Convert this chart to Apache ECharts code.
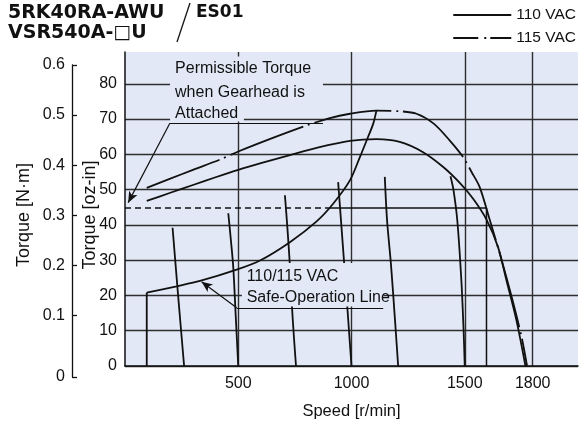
<!DOCTYPE html>
<html><head><meta charset="utf-8">
<script src="https://cdn.jsdelivr.net/npm/echarts@6/dist/echarts.min.js"></script>
<style>html,body{margin:0;padding:0;background:#fff}#c{width:585px;height:431px}</style>
</head><body><div id="c"></div>
<script>
// ---------- data (speed r/min, torque oz-in) ----------
const speed110  = [96,200,300,400,500,600,728,850,993,1110,1213,1316,1405,1478,1537,1596,1647,1684,1728,1768];
const torque110 = [46.8,49.1,51.3,53.5,55.6,57.5,59.8,61.9,63.8,64.3,63.5,60.6,56.4,51.9,47.4,41.5,33.7,24.3,13.0,0];
const speed115  = [96,200,300,419,500,650,802,900,993,1110,1213,1287,1363,1434,1493,1530,1566,1610,1663,1707,1751,1775];
const torque115 = [50.5,53.1,55.6,58.5,60.8,64.6,68.2,70.2,71.5,72.4,72.2,71.5,68.7,63.9,59.2,55.0,50.7,41.5,30.0,19.6,8.2,0];
const safeStartSpeed  = [96,96];
const safeStartTorque = [0,20.8];
const safeSpeed  = [96,228,331,493,596,728,846,919,993,1037,1073,1096,1110];
const safeTorque = [20.8,22.6,24.1,27.3,29.9,35.1,41.0,46.0,52.6,59.2,64.9,68.7,72.4];
const gearDashSpeed  = [0,900];
const gearDashTorque = [44.8,44.8];
const gearSolidSpeed  = [900,1596,1596];
const gearSolidTorque = [44.8,44.8,0];
const load1Speed = [210,235,261];            const load1Torque = [39.2,19.6,0];
const load2Speed = [456,467,478,489,500];    const load2Torque = [43.3,36,28,14,0];
const load3Speed = [706,716,727,737,746,755];const load3Torque = [48.4,40,29.5,17,8,0];
const load4Speed = [941,970,1000];           const load4Torque = [52.1,27,0];
const load5Speed = [1147,1157,1174,1191,1206];const load5Torque = [53.6,41.3,29,14,0];
const load6Speed = [1437,1450,1467,1485,1495,1500]; const load6Torque = [53.8,50,41.3,24.3,10,0];
const speedTicks  = [500,1000,1500,1800];
const ozTicks     = [0,10,20,30,40,50,60,70,80];
const nmTicks     = [-0.0234,0.1,0.2,0.3,0.4,0.5,0.6];

// ---------- styles ----------
const FONT = "'Liberation Sans', Arial, Helvetica, sans-serif";
const INK = '#111111';
const GRID_C = '#2e2e2e';
const PLOT_BG = '#e2e8f6';

const zip = (a,b) => a.map((v,i)=>[v,b[i]]);
const lineSeries = (name, xs, ys, extra) => Object.assign({
  name, type:'line', data: zip(xs,ys), symbol:'none', showSymbol:false,
  xAxisIndex:0, yAxisIndex:0, z:3, silent:true,
  lineStyle:{color:INK, width:1.8, type:'solid', cap:'butt'}, itemStyle:{color:INK}
}, extra||{});

const loads = [[load1Speed,load1Torque],[load2Speed,load2Torque],[load3Speed,load3Torque],
               [load4Speed,load4Torque],[load5Speed,load5Torque],[load6Speed,load6Torque]];

const series = [
  lineSeries('110 VAC', speed110, torque110, {smooth:0.3}),
  lineSeries('115 VAC', speed115, torque115, {smooth:0.3, lineStyle:{color:INK,width:1.8,type:[78,5,2,5],cap:'butt'}}),
  lineSeries('safeStart', safeStartSpeed, safeStartTorque, {z:20}),
  lineSeries('safe', safeSpeed, safeTorque, {smooth:0.3, z:20}),
  lineSeries('gearDash', gearDashSpeed, gearDashTorque, {lineStyle:{color:INK,width:1.5,type:[6,4]}}),
  lineSeries('gearSolid', gearSolidSpeed, gearSolidTorque, {lineStyle:{color:INK,width:1.5}}),
  ...loads.map((l,i)=>lineSeries('load'+(i+1), l[0], l[1], {smooth:0.3})),
  {
    name:'notes', type:'line', data:[], xAxisIndex:0, yAxisIndex:0, z:30, silent:true,
    markLine:{
      silent:true, animation:false, symbolSize:[7,11],
      label:{show:false}, lineStyle:{color:INK, width:1.2, type:'solid'},
      data:[
        [{coord:[198,68.8], symbol:'none'}, {coord:[14,46.3], symbol:'arrow'}],
        [{coord:[198,68.8], symbol:'none'}, {coord:[874,68.8], symbol:'none'}],
        [{coord:[493,16.5], symbol:'none'}, {coord:[338,23.9], symbol:'arrow'}],
        [{coord:[493,16.5], symbol:'none'}, {coord:[1140,16.5], symbol:'none'}]
      ]
    }
  }
];

const option = {
  animation:false,
  textStyle:{fontFamily:FONT, color:INK},
  title:[
    {text:'5RK40RA-AWU', left:8, top:4, padding:0, textStyle:{fontFamily:'DejaVu Sans', fontWeight:'bold', fontSize:19, color:INK}},
    {text:'ES01', left:196, top:4, padding:0, textStyle:{fontFamily:'DejaVu Sans', fontWeight:'bold', fontSize:17, color:INK}},
    {text:'VSR540A-\u25A1U', left:8, top:24, padding:0, textStyle:{fontFamily:'DejaVu Sans', fontWeight:'bold', fontSize:19, color:INK}}
  ],
  legend:{
    orient:'vertical', right:9, top:7, itemWidth:58, itemHeight:14, itemGap:7, padding:0,
    itemStyle:{opacity:0},
    textStyle:{fontSize:15.5, color:INK, fontFamily:FONT},
    data:[{name:'110 VAC'}, {name:'115 VAC', lineStyle:{type:[25,6,2,4]}}]
  },
  grid:[
    {left:125, right:7, top:52, bottom:65, show:true, backgroundColor:PLOT_BG, borderWidth:0},
    {left:72, width:1, top:65, bottom:54}
  ],
  xAxis:[
    {gridIndex:0, type:'value', min:0, max:2000,
     axisLine:{show:true, onZero:false, lineStyle:{color:INK, width:1.5}},
     axisTick:{show:false, customValues:speedTicks},
     axisLabel:{customValues:speedTicks, fontSize:16, color:INK, margin:10, fontFamily:FONT,
                formatter:v => String(v)},
     splitLine:{show:true, lineStyle:{color:GRID_C, width:1.4}},
     name:'Speed [r/min]', nameLocation:'middle', nameGap:37,
     nameTextStyle:{fontSize:16.5, color:INK, fontFamily:FONT}},
    {gridIndex:1, type:'value', show:false, min:0, max:1}
  ],
  yAxis:[
    {gridIndex:0, type:'value', min:0, max:89,
     axisLine:{show:true, lineStyle:{color:INK, width:1.5}},
     axisTick:{show:false, customValues:ozTicks},
     axisLabel:{customValues:ozTicks, fontSize:16, color:INK, margin:8, fontFamily:FONT},
     splitLine:{show:true, lineStyle:{color:GRID_C, width:1.4}},
     name:'Torque [oz-in]', nameLocation:'middle', nameGap:26, nameRotate:90, nameMoveOverlap:false,
     nameTextStyle:{fontSize:18, color:INK, fontFamily:FONT, padding:[0,12,0,0]}},
    {gridIndex:1, type:'value', min:-0.0234, max:0.6,
     axisLine:{show:true, lineStyle:{color:INK, width:1.3}},
     axisTick:{show:true, inside:true, length:5, customValues:nmTicks, lineStyle:{color:INK, width:1.3}},
     axisLabel:{customValues:nmTicks, fontSize:16, color:INK, margin:7, fontFamily:FONT,
                formatter:v => (v < 0.05 ? '0' : v.toFixed(1))},
     splitLine:{show:false},
     name:'Torque [N\u00B7m]', nameLocation:'middle', nameGap:39, nameRotate:90,
     nameTextStyle:{fontSize:18, color:INK, fontFamily:FONT, padding:[0,0,0,12]}}
  ],
  series
};

const chart = echarts.init(document.getElementById('c'), null, {renderer:'canvas'});
chart.setOption(option);

// ---------- annotations placed through the chart's own scales ----------
const px = p => chart.convertToPixel({gridIndex:0}, p);
function box(x0,y0,x1,y1){
  const a = px([x0,y0]), b = px([x1,y1]);
  return {type:'rect', z:10, silent:true,
    shape:{x:Math.min(a[0],b[0]), y:Math.min(a[1],b[1]), width:Math.abs(b[0]-a[0]), height:Math.abs(b[1]-a[1])},
    style:{fill:PLOT_BG}};
}
function note(text, x, y){
  const p = px([x,y]);
  return {type:'text', z:11, silent:true, x:p[0], y:p[1],
    style:{text, fill:INK, font:"16px 'Liberation Sans', Arial, sans-serif", align:'left', verticalAlign:'middle'}};
}
const slashTop = [190,3], slashBottom = [177,42];
chart.setOption({graphic:[
  box(199,87.7,874,79.2), box(199,79.8,817,74.1), box(199,74.4,525,69.3),
  note('Permissible Torque', 221, 84.2),
  note('when Gearhead is', 221, 77.6),
  note('Attached', 221, 71.5),
  box(516,29.2,1141,16.9),
  note('110/115 VAC', 537, 25.2),
  note('Safe-Operation Line', 537, 19.5),
  {type:'line', z:11, silent:true, shape:{x1:slashTop[0], y1:slashTop[1], x2:slashBottom[0], y2:slashBottom[1]},
   style:{stroke:INK, lineWidth:1.3}}
]});
</script>
</body></html>
